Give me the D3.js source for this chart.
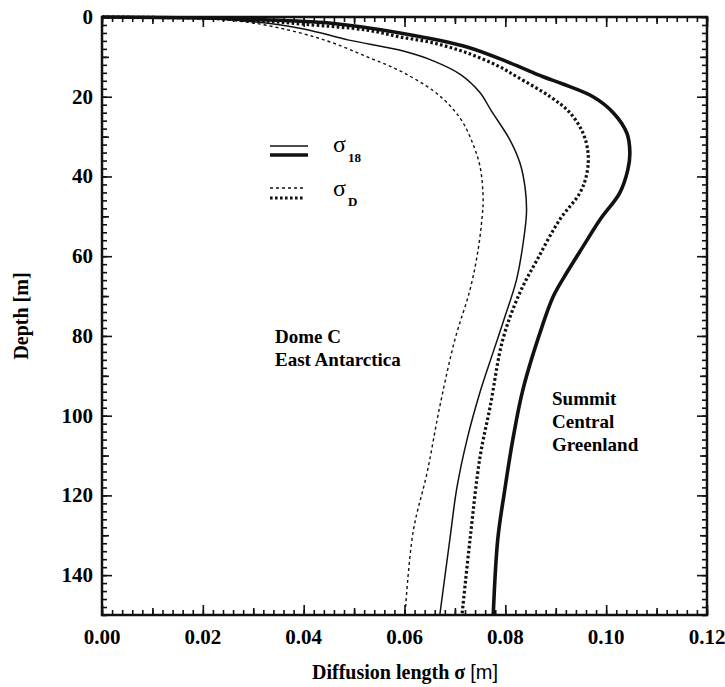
<!DOCTYPE html>
<html lang="en">
<head>
<meta charset="UTF-8">
<script src="https://d3js.org/d3.v7.min.js"></script>
<title>Diffusion length</title>
<style>
  body { margin: 0; background: #fff; }
  svg { display: block; font-family: serif; }
</style>
</head>
<body>
<svg width="725" height="687"></svg>
<script>
// Dome C, East Antarctica
const domeDepth18 = [0, 0.3, 1.2, 3.0, 5.8, 8.3, 11.0, 14.5, 19.0, 23.5, 30.8, 36.6, 42.6, 49, 57, 66, 76, 84, 94, 106, 118, 131, 150]
const domeSigma18 = [0, 0.020, 0.030, 0.040, 0.049, 0.059, 0.0657, 0.0712, 0.0750, 0.0772, 0.0809, 0.0829, 0.0839, 0.0842, 0.0835, 0.0822, 0.0797, 0.0776, 0.0750, 0.0724, 0.0704, 0.0690, 0.0670]
const domeDepthD = [0, 0.4, 1.5, 4.0, 6.5, 10.0, 13.5, 18.5, 22.5, 26.5, 31.6, 37.6, 45.8, 50.1, 58.4, 68.4, 80.9, 97.7, 114.2, 129.2, 150]
const domeSigmaD = [0, 0.020, 0.030, 0.0393, 0.0458, 0.0526, 0.0591, 0.0657, 0.0692, 0.0716, 0.0735, 0.0750, 0.0756, 0.0754, 0.0746, 0.0730, 0.0700, 0.0670, 0.0645, 0.0617, 0.0601]
// Summit, Central Greenland
const summitDepth18 = [0, 0.25, 0.6, 1.5, 4.0, 7.5, 11.5, 15.0, 16.8, 20.0, 24.0, 29.1, 34.1, 38.3, 44.1, 50.8, 57.6, 64.1, 70.1, 77.6, 93.4, 105.9, 118.5, 131.0, 150]
const summitSigma18 = [0, 0.020, 0.030, 0.045, 0.0591, 0.0724, 0.0809, 0.0875, 0.0914, 0.0974, 0.1014, 0.1041, 0.1047, 0.1043, 0.1027, 0.0988, 0.0954, 0.0922, 0.0895, 0.0873, 0.0835, 0.0815, 0.0799, 0.0785, 0.0776]
const summitDepthD = [0, 0.3, 0.8, 1.8, 3.3, 5.0, 6.5, 9.0, 12.5, 15.0, 20.0, 24.0, 29.1, 34.1, 39.1, 44.1, 50.8, 60.9, 69.1, 80.9, 97.7, 110.2, 131.0, 150]
const summitSigmaD = [0, 0.020, 0.030, 0.040, 0.0526, 0.0591, 0.0657, 0.0724, 0.0789, 0.0823, 0.0889, 0.0928, 0.0954, 0.0964, 0.0962, 0.0948, 0.0908, 0.0863, 0.0829, 0.0795, 0.0770, 0.0750, 0.0730, 0.0714]

const xTicks = [0, 0.02, 0.04, 0.06, 0.08, 0.10, 0.12]
const yTicks = [0, 20, 40, 60, 80, 100, 120, 140]

const m = {left: 102, top: 17, right: 18, bottom: 72}
const W = 725 - m.left - m.right, H = 687 - m.top - m.bottom
const svg = d3.select("svg")
const g = svg.append("g").attr("transform", `translate(${m.left},${m.top})`)
const x = d3.scaleLinear().domain([0, 0.12]).range([0, W])
const y = d3.scaleLinear().domain([0, 150]).range([0, H])

// tick labels
g.selectAll(".xl").data(xTicks).enter().append("text")
  .attr("x", d => x(d)).attr("y", H + 29).attr("text-anchor", "middle")
  .attr("font-weight", "bold").attr("font-size", 21).text(d => d.toFixed(2))
g.selectAll(".yl").data(yTicks).enter().append("text")
  .attr("x", -9).attr("y", d => y(d) + 7).attr("text-anchor", "end")
  .attr("font-weight", "bold").attr("font-size", 21).text(d => d)

// curves
const line = d3.line().x(d => x(d[1])).y(d => y(d[0])).curve(d3.curveCatmullRom.alpha(0.5))
const series = [
  {depth: domeDepthD, sigma: domeSigmaD, w: 1.4, dash: "3,3"},
  {depth: domeDepth18, sigma: domeSigma18, w: 1.5, dash: null},
  {depth: summitDepthD, sigma: summitSigmaD, w: 3.2, dash: "2.6,2.4"},
  {depth: summitDepth18, sigma: summitSigma18, w: 3.6, dash: null}
]
series.forEach(s => {
  g.append("path").datum(d3.zip(s.depth, s.sigma))
    .attr("d", line).attr("fill", "none").attr("stroke", "#111")
    .attr("stroke-width", s.w).attr("stroke-dasharray", s.dash)
})

// tick marks on all four sides, pointing inward: minor / mid / major
const xMinor = d3.range(0, 0.1201, 0.002), xMid = d3.range(0.01, 0.12, 0.02)
const yMinor = d3.range(0, 150.1, 2), yMid = d3.range(10, 150, 20)
const tickSets = [[xMinor, yMinor, 5], [xMid, yMid, 7], [xTicks, yTicks, 10]]
const ticks = g.append("g").attr("class", "ticks")
tickSets.forEach(([xv, yv, L]) => {
  ticks.append("g").attr("transform", `translate(0,${H})`)
    .call(d3.axisBottom(x).tickValues(xv).tickSize(-L).tickFormat(""))
  ticks.append("g").call(d3.axisTop(x).tickValues(xv).tickSize(-L).tickFormat(""))
  ticks.append("g").call(d3.axisLeft(y).tickValues(yv).tickSize(-L).tickFormat(""))
  ticks.append("g").attr("transform", `translate(${W},0)`)
    .call(d3.axisRight(y).tickValues(yv).tickSize(-L).tickFormat(""))
})
ticks.selectAll(".tick line").attr("stroke", "#111").attr("stroke-width", 1.6)
ticks.selectAll(".domain").remove()
g.append("rect").attr("width", W).attr("height", H).attr("fill", "none").attr("stroke", "#111").attr("stroke-width", 2.5)

// legend
const lg = svg.append("g")
lg.append("line").attr("x1", 270).attr("x2", 308).attr("y1", 146).attr("y2", 146).attr("stroke", "#111").attr("stroke-width", 1.5)
lg.append("line").attr("x1", 270).attr("x2", 308).attr("y1", 155).attr("y2", 155).attr("stroke", "#111").attr("stroke-width", 3.4)
lg.append("line").attr("x1", 270).attr("x2", 305).attr("y1", 188).attr("y2", 188).attr("stroke", "#111").attr("stroke-width", 1.4).attr("stroke-dasharray", "3,3")
lg.append("line").attr("x1", 270).attr("x2", 305).attr("y1", 198).attr("y2", 198).attr("stroke", "#111").attr("stroke-width", 3).attr("stroke-dasharray", "2.6,2.4")
const t1 = lg.append("text").attr("x", 333).attr("y", 152).attr("font-size", 24)
t1.append("tspan").text("σ")
t1.append("tspan").attr("dy", 10).attr("dx", 2).attr("font-size", 13).attr("font-weight", "bold").text("18")
const t2 = lg.append("text").attr("x", 333).attr("y", 196).attr("font-size", 24)
t2.append("tspan").text("σ")
t2.append("tspan").attr("dy", 10).attr("dx", 2).attr("font-size", 13).attr("font-weight", "bold").text("D")

// site labels
const site = (lines, x0, y0) => lines.forEach((t, i) =>
  svg.append("text").attr("x", x0).attr("y", y0 + i * 23).attr("font-size", 19).attr("font-weight", "bold").text(t))
site(["Dome C", "East Antarctica"], 275, 343)
site(["Summit", "Central", "Greenland"], 552, 405)

// axis titles
const xt = svg.append("text").attr("x", 405).attr("y", 679).attr("text-anchor", "middle").attr("font-size", 20).attr("font-weight", "bold")
xt.append("tspan").text("Diffusion length σ ")
xt.append("tspan").attr("font-family", "'Liberation Sans', Arial, sans-serif").attr("font-weight", "normal").text("[m]")
svg.append("text").attr("transform", "translate(28,316) rotate(-90)").attr("text-anchor", "middle")
  .attr("font-size", 20).attr("font-weight", "bold").text("Depth [m]")
</script>
</body>
</html>
